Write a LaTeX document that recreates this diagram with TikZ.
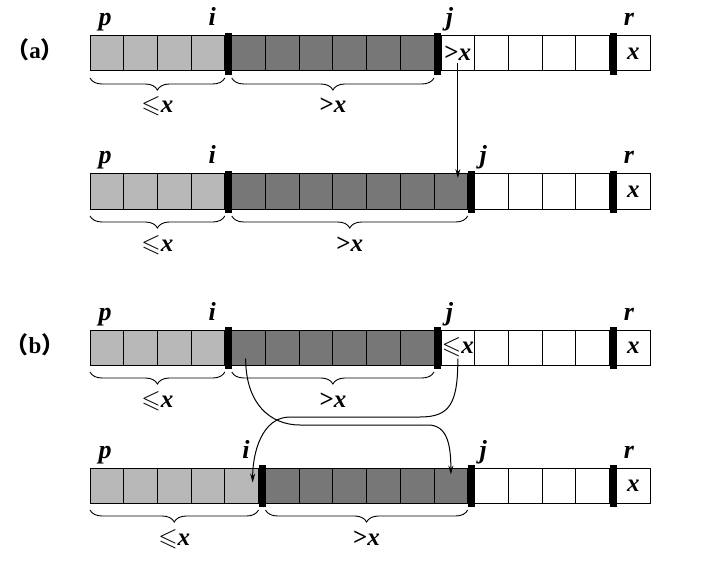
\documentclass[tikz,border=0pt]{standalone}
\usepackage{amssymb}
\usepackage{fontspec}
\setmainfont{Liberation Serif}
\newfontfamily\cjk{Noto Sans CJK SC}
\usetikzlibrary{arrows.meta,decorations.pathreplacing}
\definecolor{partLight}{HTML}{B8B8B8}
\definecolor{partDark}{HTML}{777777}
\tikzset{
  part diagram/.style={
    x=1pt, y=-1pt, line width=1pt,
    >={Stealth[length=9pt,width=5pt]},
    every node/.style={font=\fontsize{25}{28}\selectfont\bfseries,
      text=black, inner sep=0pt, outer sep=0pt}
  },
  part cell/.style={draw=black, anchor=north west,
    minimum width=33.7pt, minimum height=35pt},
  part bar/.style={fill=black, anchor=north,
    minimum width=7pt, minimum height=42pt},
  part letter/.style={anchor=base, font=\fontsize{26}{28}\selectfont\bfseries\itshape},
  part brace/.style={decorate, line width=0.9pt,
    decoration={brace, amplitude=12pt, aspect=0.5, mirror}},
  part under/.style={anchor=base, yshift=-35pt},
  part tag/.style={anchor=base, font=\fontsize{23}{26}\selectfont\bfseries}
}
\newcommand{\PartX}{\textit{x}}
% #1 row name, #2 top, #3 light cells, #4 dark cells, #5 text in cell j
\newcommand{\PartitionRow}[5]{%
  \pgfmathtruncatemacro{\nlast}{#3+#4}
  \pgfmathtruncatemacro{\jcell}{#3+#4+1}
  \foreach \c in {1,...,16} {
    \pgfmathtruncatemacro{\nbar}{(\c>#3)+(\c>\nlast)+(\c>15)}
    \pgfmathsetmacro{\cx}{90+(\c-1)*33.7+\nbar*7}
    \ifnum\c>\nlast \def\cfill{white}\else
      \ifnum\c>#3 \def\cfill{partDark}\else\def\cfill{partLight}\fi\fi
    \node[part cell, fill=\cfill] (#1-\c) at (\cx,#2) {};
  }
  \node[part bar] (#1-bi) at ({90+#3*33.7+3.5},#2-3) {};
  \node[part bar] (#1-bj) at ({90+\nlast*33.7+10.5},#2-3) {};
  \node[part bar] (#1-br) at ({90+15*33.7+17.5},#2-3) {};
  % letters over the row
  \node[part letter] (#1-p) at ([xshift=15pt,yshift=10pt]#1-1.north west) {p};
  \node[part letter] (#1-i) at ([xshift=-16pt,yshift=7pt]#1-bi.north) {i};
  \node[part letter] (#1-j) at ([xshift=12pt,yshift=7pt]#1-bj.north) {j};
  \node[part letter] (#1-r) at ([xshift=16pt,yshift=7pt]#1-br.north) {r};
  \node (#1-xt) at (#1-16) {\PartX};
  \if\relax\detokenize{#5}\relax\else
    \node (#1-jt) at (#1-\jcell) {#5};
  \fi
  % braces
  \draw[part brace] ([yshift=-7pt]#1-1.south west)
    -- ([yshift=-7pt]#1-1.south west -| #1-bi.west)
    node[part under, midway] (#1-le) {$\leqslant$\PartX};
  \draw[part brace] ([yshift=-7pt]#1-1.south west -| #1-bi.east)
    -- ([yshift=-7pt]#1-1.south west -| #1-bj.west)
    node[part under, midway] (#1-gt) {>\PartX};
}

\begin{document}
\begin{tikzpicture}[part diagram]
  \useasboundingbox (0,0) rectangle (725,564);
  \node[part tag] (lbl-a) at (35,59) {{\cjk （}a{\cjk ）}};
  \node[part tag] (lbl-b) at (35,353) {{\cjk （}b{\cjk ）}};

  \PartitionRow{a1}{36}{4}{6}{>\PartX}
  \PartitionRow{a2}{174}{4}{7}{}
  \PartitionRow{b1}{330}{4}{6}{$\leqslant$\PartX}
  \PartitionRow{b2}{468}{5}{6}{}

  % (a): A[j] > x, only j moves on
  \draw[->] ([yshift=-10pt]a1-11.center) -- ([yshift=-4pt]a1-11.center |- a2-11.north);

  % (b): A[j] <= x, swap with A[i+1]
  \coordinate (go1) at (300,425);
  \coordinate (go2) at (428,425);
  \coordinate (back1) at (420,417);
  \coordinate (back2) at (290,417);
  \draw[->] ([xshift=-3pt,yshift=-11pt]b1-5.center)
    .. controls +(0,45) and +(-30,0) .. (go1) -- (go2)
    .. controls +(20,0) and +(0,-28) .. ([yshift=11pt]b2-11.center);
  \draw[->] ([yshift=-11pt]b1-11.center)
    .. controls +(0,45) and +(30,0) .. (back1) -- (back2)
    .. controls +(-28,0) and +(0,-30) .. ([xshift=11pt,yshift=3pt]b2-5.center);
\end{tikzpicture}
\end{document}
